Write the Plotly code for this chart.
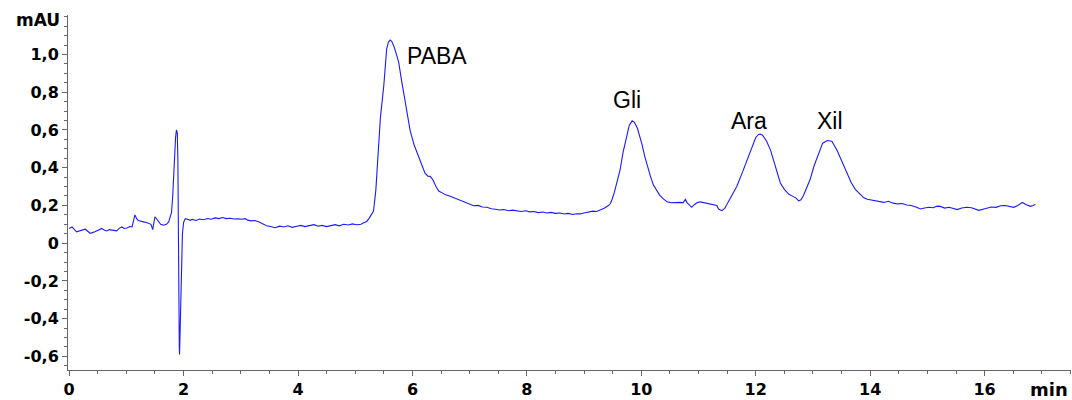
import plotly.graph_objects as go

time_min = [
    0.00, 0.05, 0.13, 0.20, 0.28, 0.33, 0.37, 0.45, 0.52, 0.57, 0.62, 0.66, 0.70, 0.75, 0.80,
    0.83, 0.88, 0.92, 0.96, 1.01, 1.06, 1.10, 1.15, 1.18, 1.21, 1.26, 1.30, 1.35, 1.39, 1.43,
    1.46, 1.48, 1.50, 1.53, 1.56, 1.60, 1.65, 1.70, 1.74, 1.77, 1.79, 1.81, 1.835, 1.86, 1.875,
    1.89, 1.90, 1.905, 1.917, 1.925, 1.93, 1.935, 1.945, 1.96, 1.98, 2.00, 2.03, 2.08, 2.12,
    2.15, 2.22, 2.28, 2.35, 2.42, 2.48, 2.55, 2.62, 2.68, 2.75, 2.82, 2.88, 2.95, 3.02, 3.08,
    3.12, 3.18, 3.25, 3.32, 3.40, 3.45, 3.52, 3.60, 3.68, 3.75, 3.82, 3.90, 3.98, 4.05, 4.12,
    4.20, 4.28, 4.35, 4.42, 4.50, 4.58, 4.65, 4.72, 4.80, 4.88, 4.95, 5.02, 5.10, 5.15, 5.20,
    5.24, 5.28, 5.32, 5.36, 5.40, 5.44, 5.50, 5.55, 5.58, 5.61, 5.64, 5.68, 5.72, 5.76, 5.80,
    5.85, 5.90, 5.96, 6.03, 6.11, 6.16, 6.22, 6.27, 6.31, 6.36, 6.41, 6.46, 6.52, 6.58, 6.65,
    6.72, 6.80, 6.88, 6.95, 7.02, 7.07, 7.15, 7.22, 7.30, 7.38, 7.45, 7.52, 7.60, 7.68, 7.75,
    7.82, 7.90, 7.98, 8.05, 8.12, 8.20, 8.28, 8.35, 8.42, 8.50, 8.58, 8.65, 8.72, 8.80, 8.87,
    8.93, 9.00, 9.08, 9.15, 9.22, 9.28, 9.35, 9.42, 9.46, 9.49, 9.53, 9.58, 9.63, 9.68, 9.74,
    9.79, 9.84, 9.88, 9.93, 9.97, 10.01, 10.06, 10.11, 10.16, 10.21, 10.27, 10.32, 10.38, 10.45, 10.52,
    10.60, 10.68, 10.73, 10.77, 10.80, 10.84, 10.88, 10.93, 10.98, 11.03, 11.10, 11.18, 11.25, 11.32, 11.35,
    11.41, 11.46, 11.50, 11.55, 11.61, 11.67, 11.76, 11.85, 11.93, 12.00, 12.05, 12.08, 12.12, 12.19, 12.26,
    12.34, 12.43, 12.50, 12.58, 12.65, 12.70, 12.75, 12.79, 12.83, 12.89, 12.95, 13.02, 13.10, 13.17, 13.25,
    13.33, 13.42, 13.50, 13.60, 13.67, 13.74, 13.82, 13.89, 13.95, 14.05, 14.15, 14.24, 14.32, 14.40, 14.48,
    14.56, 14.64, 14.72, 14.80, 14.88, 14.95, 15.03, 15.10, 15.17, 15.23, 15.30, 15.38, 15.45, 15.52, 15.60,
    15.69, 15.77, 15.84, 15.90, 15.97, 16.05, 16.12, 16.20, 16.28, 16.36, 16.43, 16.51, 16.58, 16.63, 16.66,
    16.72, 16.80, 16.85, 16.89,
]

absorbance_mau = [
    0.078, 0.086, 0.060, 0.068, 0.074, 0.062, 0.052, 0.060, 0.072, 0.078, 0.068, 0.065, 0.072, 0.070, 0.066,
    0.065, 0.080, 0.086, 0.078, 0.080, 0.088, 0.086, 0.150, 0.130, 0.120, 0.118, 0.113, 0.110, 0.104, 0.100,
    0.072, 0.110, 0.140, 0.128, 0.113, 0.100, 0.095, 0.100, 0.113, 0.140, 0.164, 0.250, 0.423, 0.560, 0.600,
    0.585, 0.450, 0.112, -0.268, -0.550, -0.590, -0.530, -0.350, -0.095, 0.050, 0.110, 0.130, 0.125, 0.121,
    0.126, 0.120, 0.128, 0.124, 0.131, 0.127, 0.134, 0.130, 0.136, 0.130, 0.132, 0.128, 0.129, 0.127, 0.130,
    0.122, 0.118, 0.120, 0.112, 0.100, 0.092, 0.088, 0.082, 0.090, 0.086, 0.092, 0.084, 0.090, 0.094, 0.088,
    0.092, 0.098, 0.090, 0.094, 0.088, 0.095, 0.098, 0.092, 0.100, 0.096, 0.102, 0.098, 0.100, 0.108, 0.115,
    0.130, 0.150, 0.170, 0.280, 0.480, 0.665, 0.837, 1.030, 1.065, 1.076, 1.068, 1.040, 1.000, 0.958, 0.880,
    0.785, 0.700, 0.596, 0.520, 0.457, 0.410, 0.371, 0.355, 0.354, 0.335, 0.300, 0.276, 0.265, 0.256, 0.250,
    0.241, 0.235, 0.222, 0.215, 0.205, 0.198, 0.200, 0.192, 0.190, 0.182, 0.180, 0.176, 0.178, 0.172, 0.175,
    0.170, 0.168, 0.172, 0.166, 0.168, 0.162, 0.165, 0.160, 0.163, 0.158, 0.160, 0.155, 0.158, 0.152, 0.156,
    0.155, 0.160, 0.166, 0.170, 0.168, 0.175, 0.185, 0.198, 0.210, 0.233, 0.270, 0.330, 0.389, 0.480, 0.570,
    0.625, 0.648, 0.640, 0.610, 0.570, 0.526, 0.460, 0.400, 0.354, 0.310, 0.276, 0.255, 0.236, 0.219, 0.214,
    0.216, 0.216, 0.214, 0.232, 0.215, 0.205, 0.190, 0.205, 0.215, 0.219, 0.214, 0.210, 0.206, 0.200, 0.181,
    0.172, 0.185, 0.207, 0.230, 0.262, 0.302, 0.370, 0.440, 0.510, 0.560, 0.576, 0.578, 0.572, 0.540, 0.492,
    0.410, 0.319, 0.285, 0.259, 0.248, 0.240, 0.224, 0.230, 0.250, 0.290, 0.337, 0.410, 0.475, 0.530, 0.544,
    0.540, 0.492, 0.440, 0.371, 0.320, 0.285, 0.262, 0.240, 0.233, 0.228, 0.219, 0.216, 0.222, 0.212, 0.208,
    0.210, 0.202, 0.200, 0.192, 0.181, 0.186, 0.190, 0.188, 0.196, 0.195, 0.186, 0.190, 0.184, 0.178, 0.186,
    0.190, 0.188, 0.180, 0.174, 0.180, 0.186, 0.192, 0.190, 0.198, 0.200, 0.196, 0.190, 0.200, 0.212, 0.216,
    0.205, 0.195, 0.200, 0.207,
]

peak_labels = ["PABA", "Gli", "Ara", "Xil"]
peak_label_x = [6.43, 9.75, 11.89, 13.30]
peak_label_y = [0.99, 0.76, 0.646, 0.646]

y_tick_vals = [-0.6, -0.4, -0.2, 0.0, 0.2, 0.4, 0.6, 0.8, 1.0]
y_tick_text = ["-0,6", "-0,4", "-0,2", "0", "0,2", "0,4", "0,6", "0,8", "1,0"]
x_tick_vals = [0, 2, 4, 6, 8, 10, 12, 14, 16]
x_tick_text = ["0", "2", "4", "6", "8", "10", "12", "14", "16"]

tick_font = dict(family="DejaVu Sans", size=16, color="black", weight="bold")
axis_color = "#666666"

fig = go.Figure()
fig.add_trace(go.Scatter(
    x=time_min, y=absorbance_mau, mode="lines",
    line=dict(color="#1a1aff", width=1.1),
    hoverinfo="skip", showlegend=False,
))

for name, lx, ly in zip(peak_labels, peak_label_x, peak_label_y):
    fig.add_annotation(
        x=lx, y=ly, text=name, showarrow=False,
        xanchor="center", yanchor="middle",
        font=dict(family="Liberation Sans, Arial", size=23, color="black"),
    )

fig.add_annotation(
    xref="paper", yref="paper", x=-0.006, y=0.986, text="mAU", showarrow=False,
    xanchor="right", yanchor="middle", font=dict(family="DejaVu Sans", size=17, color="black", weight="bold"),
)
fig.add_annotation(
    xref="paper", yref="paper", x=0.999, y=-0.054, text="min", showarrow=False,
    xanchor="right", yanchor="middle", font=dict(family="DejaVu Sans", size=18, color="black", weight="bold"),
)

fig.update_xaxes(
    range=[-0.02, 17.51], showgrid=False, zeroline=False,
    showline=True, linecolor=axis_color, linewidth=1,
    ticks="outside", ticklen=5, tickcolor=axis_color, tickwidth=1,
    tickvals=x_tick_vals, ticktext=x_tick_text, tickfont=tick_font,
    minor=dict(dtick=0.5, tick0=0, ticks="outside", ticklen=3, tickcolor=axis_color, showgrid=False),
)
fig.update_yaxes(
    range=[-0.672, 1.209], showgrid=False, zeroline=False,
    showline=True, linecolor=axis_color, linewidth=1,
    ticks="outside", ticklen=5, tickcolor=axis_color, tickwidth=1,
    tickvals=y_tick_vals, ticktext=y_tick_text, tickfont=tick_font,
    minor=dict(dtick=0.05, tick0=0, ticks="outside", ticklen=3, tickcolor=axis_color, showgrid=False),
)

fig.update_layout(
    width=1072, height=400,
    margin=dict(l=68, r=1, t=15, b=22),
    plot_bgcolor="white", paper_bgcolor="white",
)

fig.write_html("out.html")
